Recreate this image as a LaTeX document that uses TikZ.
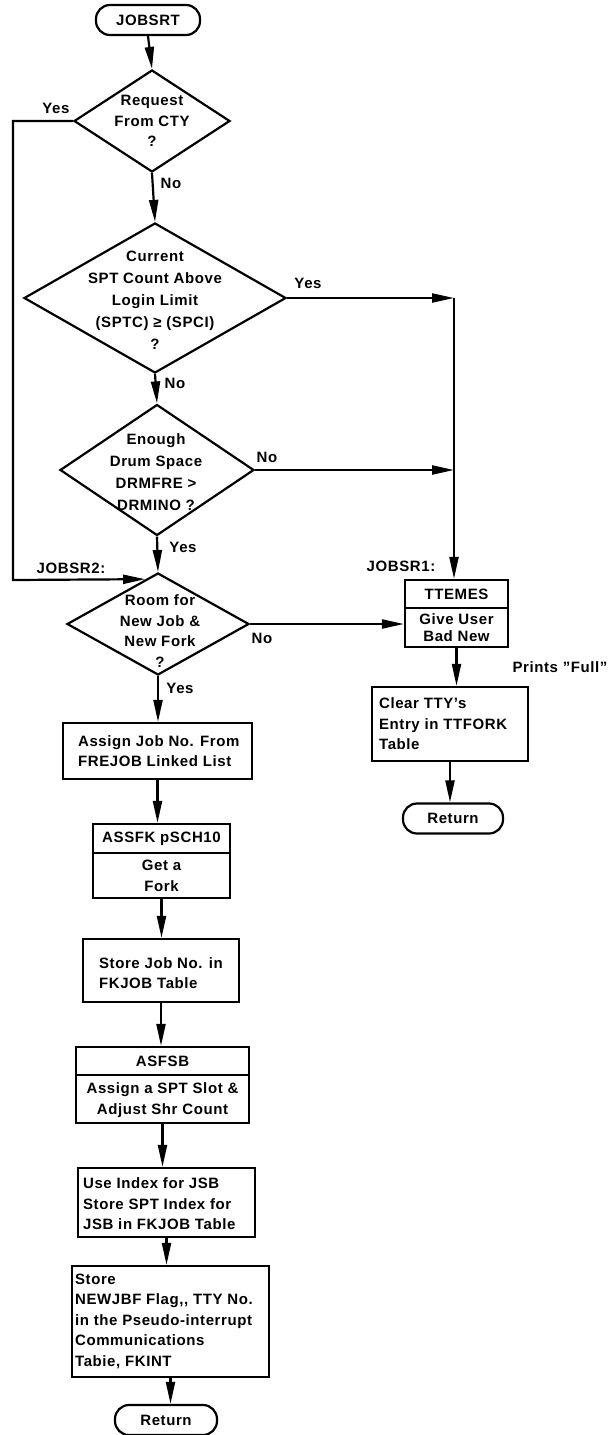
\documentclass[tikz,border=0pt]{standalone}
\usepackage{fontspec}
\setmainfont{Liberation Sans}[LetterSpace=4]
\usetikzlibrary{arrows.meta,shapes.geometric}

\newcommand\chartfont{\fontsize{15}{20.5}\selectfont\bfseries}
\newcommand\widefont{\fontsize{15}{22}\selectfont\bfseries}
\newcommand\tightfont{\fontsize{15}{17}\selectfont\bfseries}

\begin{document}
\begin{tikzpicture}[x=1pt,y=-1pt,line width=2.2pt,
  flow/.style={-{Triangle[length=22pt,width=9pt]}},
  box/.style={draw,rectangle,inner sep=0pt},
  term/.style={draw,rectangle,rounded corners=14pt,inner sep=0pt,font=\chartfont},
  dec/.style={draw,diamond,inner sep=0pt},
  txt/.style={align=center,inner sep=0pt,font=\chartfont},
  ltxt/.style={align=left,inner sep=0pt,anchor=west,font=\chartfont},
  lbl/.style={inner sep=0pt,font=\chartfont}]
\useasboundingbox (0,0) rectangle (613,1435);

% main column: start and the four decisions
\node[term,minimum width=104pt,minimum height=30pt] (jobsrt) at (148,20) {JOBSRT};

\node[dec,minimum width=156pt,minimum height=102pt] (d1) at (152,121) {};
\node[txt] (d1t) at (152,121) {Request\\From CTY\\?};

\node[dec,minimum width=262pt,minimum height=150pt] (d2) at (155,298) {};
\node[txt,font=\widefont] (d2t) at (155,300) {Current\\SPT Count Above\\Login Limit\\(SPTC) ≥ (SPCI)\\?};

\node[dec,minimum width=194pt,minimum height=131pt] (d3) at (157,470) {};
\node[txt,font=\widefont] (d3t) at (156,472) {Enough\\Drum Space\\DRMFRE >\\DRMINO ?};

\node[dec,minimum width=182pt,minimum height=102pt] (d4) at (158,624) {};
\node[txt] (d4t) at (160,631) {Room for\\New Job \&\\New Fork\\?};

% branch labels
\node[lbl] (y1) at (56,108) {Yes};
\node[lbl] (n1) at (171,183) {No};
\node[lbl] (y2) at (308,283) {Yes};
\node[lbl] (n2) at (175,383) {No};
\node[lbl] (n3) at (267,457) {No};
\node[lbl] (y3) at (183,547) {Yes};
\node[lbl] (n4) at (262,638) {No};
\node[lbl] (y4) at (180,688) {Yes};
\node[lbl] (jobsr2) at (71,568) {JOBSR2:};
\node[lbl] (jobsr1) at (401,566) {JOBSR1:};
\node[lbl] (full) at (560,667) {Prints ''Full''};

% "full" branch on the right
\node[box,minimum width=103pt,minimum height=67pt] (ttemes) at (456.5,613.5) {};
\coordinate (tdiv) at (0,608);
\draw[line width=1.8pt] (ttemes.west |- tdiv) -- (ttemes.east |- tdiv);
\node[txt] (ttemesh) at (456.5,594) {TTEMES};
\node[txt,font=\tightfont] (ttemesb) at (456.5,628) {Give User\\Bad New};

\node[box,minimum width=156pt,minimum height=74pt] (clear) at (450,724) {};
\node[ltxt] (cleart) at (378,724) {Clear TTY’s\\Entry in TTFORK\\Table};

\node[term,minimum width=100pt,minimum height=30pt] (ret1) at (453,818.5) {Return};

% job creation column
\node[box,minimum width=189pt,minimum height=56pt] (assign) at (157.5,751) {};
\node[ltxt] (assignt) at (77,751) {Assign Job No. From\\FREJOB Linked List};

\node[box,minimum width=137pt,minimum height=74pt] (assfk) at (161.5,861) {};
\coordinate (adiv) at (0,853);
\draw[line width=1.8pt] (assfk.west |- adiv) -- (assfk.east |- adiv);
\node[txt] (assfkh) at (161.5,839) {ASSFK pSCH10};
\node[txt] (assfkb) at (161.5,876) {Get a\\Fork};

\node[box,minimum width=156pt,minimum height=63pt] (storejob) at (161,970.5) {};
\node[ltxt] (storejobt) at (98,973) {Store Job No. in\\FKJOB Table};

\node[box,minimum width=173pt,minimum height=76pt] (asfsb) at (162.5,1085) {};
\coordinate (sdiv) at (0,1075);
\draw[line width=1.8pt] (asfsb.west |- sdiv) -- (asfsb.east |- sdiv);
\node[txt] (asfsbh) at (162.5,1061) {ASFSB};
\node[txt] (asfsbb) at (162.5,1100) {Assign a SPT Slot \&\\Adjust Shr Count};

\node[box,minimum width=177pt,minimum height=69pt] (useidx) at (166.5,1202.5) {};
\node[ltxt] (useidxt) at (82,1204) {Use Index for JSB\\Store SPT Index for\\JSB in FKJOB Table};

\node[box,minimum width=197pt,minimum height=111pt] (store) at (170.5,1321.5) {};
\node[ltxt] (storet) at (74,1321) {Store\\NEWJBF Flag,{}, TTY No.\\in the Pseudo-interrupt\\Communications\\Tabie, FKINT};

\node[term,minimum width=102pt,minimum height=30pt] (ret2) at (166,1420) {Return};

% connectors
\coordinate (jl) at (13,580);
\coordinate (rx) at (454,0);
\coordinate (r1) at (454,298);

\draw[flow] (jobsrt.south) -- (d1.north);
\draw[flow] (d1.south) -- (d2.north);
\draw[flow] (d2.south) -- (d3.north);
\draw[flow] (d3.south) -- (d4.north);
\draw[flow] (d4.south) -- (d4.south |- assign.north);
\draw[flow] (d1.west) -| (jl) -- (d4.106.5);
\draw[flow] (d2.east) -- (r1);
\draw[flow] (d3.east) -- (d3.east -| rx);
\draw[flow] (r1) -- (r1 |- ttemes.north);
\draw[flow] (d4.east) -- (d4.east -| ttemes.west);
\draw[flow] (ttemes.south) -- (ttemes.south |- clear.north);
\draw[flow] (clear.south) -- (clear.south |- ret1.north);
\draw[flow] (assign.south) -- (assign.south |- assfk.north);
\draw[flow] (assfk.south) -- (assfk.south |- storejob.north);
\draw[flow] (storejob.south) -- (storejob.south |- asfsb.north);
\draw[flow] (asfsb.south) -- (asfsb.south |- useidx.north);
\draw[flow] (useidx.south) -- (useidx.south |- store.north);
\draw[flow] (store.south) -- (store.south |- ret2.north);
\end{tikzpicture}
\end{document}
